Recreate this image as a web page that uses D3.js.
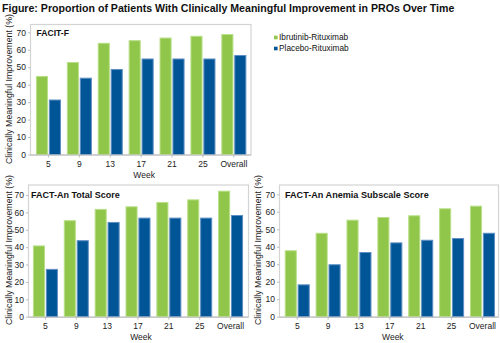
<!DOCTYPE html>
<html lang="en">
<head>
    <meta charset="UTF-8">
    <title>PRO improvement over time</title>
    <script src="https://d3js.org/d3.v7.min.js"></script>
    <style>
        body {margin: 0; background: #fff;}
        svg {display: block; font-family: "Liberation Sans", Arial, sans-serif;}
    </style>
</head>
<body>
<script>
    const width = 500;
    const height = 343;

    const weeks = ["5", "9", "13", "17", "21", "25", "Overall"];
    const seriesNames = ["Ibrutinib-Rituximab", "Placebo-Rituximab"];
    const yTicks = [0, 10, 20, 30, 40, 50, 60, 70];

    const facitIbr = [45, 53, 64, 65.5, 67, 68, 69];
    const facitPbo = [31.5, 44, 49, 55, 55, 55, 57];
    const totalIbr = [41, 55.5, 62, 63.5, 66, 67.5, 72.5];
    const totalPbo = [27.5, 44, 54.5, 57, 57, 57, 58.5];
    const anemiaIbr = [38, 48, 55.5, 57, 58, 62, 63.5];
    const anemiaPbo = [18.5, 30, 37, 42.5, 44, 45, 48];

    const colors = ["#90c74a", "#005596"];
    const edges = ["#badf8a", "#5f8fc4"];

    const svg = d3.select("body").append("svg")
            .attr("width", width).attr("height", height);

    svg.append("text")
            .attr("x", 2).attr("y", 12)
            .style("font-size", "10.6px").style("font-weight", "bold")
            .style("fill", "#111")
            .text("Figure: Proportion of Patients With Clinically Meaningful Improvement in PROs Over Time");

    // panel layout: frame box, x band range, y pixel of 0 and 70
    const panels = [
        {title: "FACIT-F", titleSize: 8.6, tx: 36.5, ty: 36,
         frame: [30.5, 24.5, 251, 155], xr: [33, 249.3], y0: 154.5, y70: 32.3,
         ylabX: 9, ylabY: 89, weekY: 178, values: [facitIbr, facitPbo]},
        {title: "FACT-An Total Score", titleSize: 9, tx: 31, ty: 198,
         frame: [28.5, 185, 248.5, 317], xr: [30, 246], y0: 316.7, y70: 195,
         ylabX: 8.5, ylabY: 250, weekY: 339.5, values: [totalIbr, totalPbo]},
        {title: "FACT-An Anemia Subscale Score", titleSize: 9.1, tx: 285, ty: 198,
         frame: [279.5, 185, 498.5, 317], xr: [281.8, 497.9], y0: 316.7, y70: 194.3,
         ylabX: 258, ylabY: 250, weekY: 340, values: [anemiaIbr, anemiaPbo]}
    ];

    panels.forEach(drawPanel);
    drawLegend();

    function drawPanel(p) {
        const g = svg.append("g");
        const [fx0, fy0, fx1, fy1] = p.frame;

        g.append("rect")
                .attr("x", fx0).attr("y", fy0)
                .attr("width", fx1 - fx0).attr("height", fy1 - fy0)
                .style("fill", "none")
                .style("stroke", "#d4d4d4")
                .style("stroke-width", 1.2);

        const x0 = d3.scaleBand().domain(weeks).range(p.xr)
                .paddingInner(0.19).paddingOuter(0.095);
        const x1 = d3.scaleBand().domain(seriesNames).range([0, x0.bandwidth()])
                .paddingInner(0.065);
        const y = d3.scaleLinear().domain([0, 70]).range([p.y0, p.y70]);

        const rows = weeks.map((w, i) => ({
            week: w,
            vals: seriesNames.map((s, j) => ({series: s, j: j, v: p.values[j][i]}))
        }));

        const groups = g.selectAll("g.week")
                .data(rows)
                .enter().append("g")
                .attr("class", "week")
                .attr("transform", d => "translate(" + x0(d.week) + ",0)");

        groups.selectAll("rect")
                .data(d => d.vals)
                .enter().append("rect")
                .attr("x", d => x1(d.series) + 0.5)
                .attr("width", x1.bandwidth() - 1)
                .attr("y", d => y(d.v) + 0.5)
                .attr("height", d => y(0) - y(d.v) - 0.5)
                .style("fill", d => colors[d.j])
                .style("stroke", d => edges[d.j])
                .style("stroke-width", 1);

        // axes
        const xAxis = g.append("g")
                .attr("transform", "translate(0," + (p.y0 + 0.5) + ")")
                .call(d3.axisBottom(x0).tickSize(2.5).tickPadding(3).tickSizeOuter(0));
        xAxis.select(".domain").attr("d", "M" + fx0 + ",0H" + fx1).style("stroke", "#bdbdbd");
        xAxis.selectAll(".tick line").style("stroke", "#bdbdbd");
        xAxis.selectAll(".tick text")
                .style("font-size", "8.5px").style("fill", "#222")
                .style("font-family", "'Liberation Sans', Arial, sans-serif");

        const yAxis = g.append("g")
                .attr("transform", "translate(" + fx0 + ",0)")
                .call(d3.axisLeft(y).tickValues(yTicks).tickSize(2.5).tickPadding(2));
        yAxis.select(".domain").remove();
        yAxis.selectAll(".tick line").style("stroke", "#bdbdbd");
        yAxis.selectAll(".tick text")
                .style("font-size", "8.5px").style("fill", "#222")
                .style("font-family", "'Liberation Sans', Arial, sans-serif");

        g.append("text")
                .attr("x", p.tx).attr("y", p.ty)
                .style("font-size", p.titleSize + "px").style("font-weight", "bold")
                .style("fill", "#111")
                .text(p.title);

        g.append("text")
                .attr("x", (p.xr[0] + p.xr[1]) / 2 + 3).attr("y", p.weekY)
                .attr("text-anchor", "middle")
                .style("font-size", "8.5px").style("fill", "#222")
                .text("Week");

        g.append("text")
                .attr("transform", "translate(" + p.ylabX + "," + p.ylabY + ") rotate(-90)")
                .attr("text-anchor", "middle")
                .attr("dy", "0.35em")
                .style("font-size", "8.8px").style("fill", "#222")
                .text("Clinically Meaningful Improvement (%)");
    }

    function drawLegend() {
        const legend = svg.append("g").attr("class", "legend");
        const item = legend.selectAll("g")
                .data(seriesNames)
                .enter().append("g")
                .attr("transform", (d, i) => "translate(274," + (37.5 + i * 11) + ")");

        item.append("rect")
                .attr("x", 0).attr("y", -1.8)
                .attr("width", 3.6).attr("height", 3.6)
                .style("fill", (d, i) => colors[i]);

        item.append("text")
                .attr("x", 5).attr("dy", "0.35em")
                .style("font-size", "8.3px").style("fill", "#111")
                .text(d => d);
    }
</script>
</body>
</html>
